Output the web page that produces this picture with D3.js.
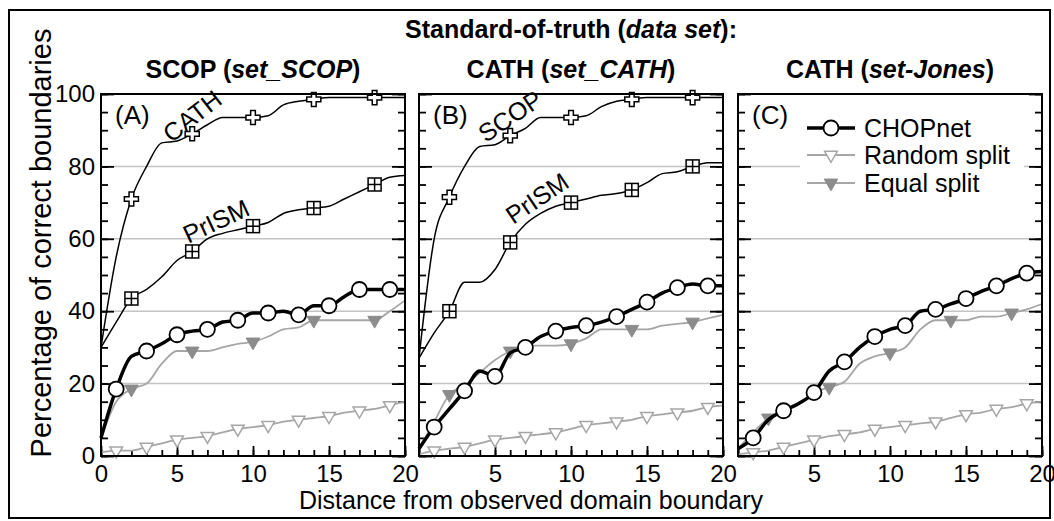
<!DOCTYPE html>
<html>
<head>
<meta charset="utf-8">
<script src="https://cdn.jsdelivr.net/npm/d3@7"></script>
<style>
  body { margin: 0; background: #fff; }
  svg { font-family: "Liberation Sans", Arial, Helvetica, sans-serif; }
</style>
</head>
<body>
<div id="chart"></div>
<script>
// distance values (x) and marker positions
var distance = [0,1,2,3,4,5,6,7,8,9,10,11,12,13,14,15,16,17,18,19,20];
var oddMarks = [1,3,5,7,9,11,13,15,17,19];
var evenMarks = [2,6,10,14,18];

var panelTitles = ["SCOP (set_SCOP)", "CATH (set_CATH)", "CATH (set-Jones)"];
var panelLetters = ["(A)", "(B)", "(C)"];
var xTicks = [0,5,10,15,20];
var yTicks = [0,20,40,60,80,100];
var gridVals = [20,40,60,80];

// panel A (set_SCOP)
var aCath  = [30,55,71,80,86.5,87,89,91.5,93.5,93.5,93.5,94,97,98,98.5,99,99,99,99,99,99];
var aPrism = [30,37,43.5,46,49.5,54,56.5,60,61.5,62.5,63.5,64.5,67,68,68.5,69,71,73,75,77,77.5];
var aChop  = [5,18.5,27.5,29,31,33.5,34.5,35,37,37.5,39.5,39.5,40,39,41.5,41.5,44,46,46,46,46];
var aEqual = [5,15,18.5,20,25.5,29,29,29,30,31,31.5,33,35,35.5,37.5,37.5,37.5,37.5,37.5,40,43];
var aRandom = [1,1.5,1.5,2.5,3.5,4.5,5,5.5,6.5,7.5,8,8.5,9.5,10,10.5,11,12,12.5,13,14,15];

// panel B (set_CATH)
var bScop  = [27,60,71.5,80,85.5,86,88.5,90.5,93.5,93.5,93.5,94,96.5,98,98.5,99,99,99,99,99,99];
var bPrism = [27,34,40,48,48,51.5,59,64,67,69,70,71,72,72.5,73.5,75.5,78,78.5,80,81,81];
var bChop  = [2,8,13,18,23.5,22,28.5,30,33,34.5,35.5,36,37,38.5,40.5,42.5,45,46.5,47.5,47,47];
var bEqual = [2,9.5,17,19.5,23,26.5,29,30.5,30.5,30.5,31,32.5,35,35,35,35,36,36.5,37,38,39];
var bRandom = [0.5,1.5,2,2.5,3.5,4.5,5,5.5,6,6.5,7.5,8.5,9,9.5,10,11,11.5,12,12.5,13.5,14];

// panel C (set-Jones)
var cChop  = [2,5,10,12.5,14.5,17.5,23.5,26,30,33,35,36,40,40.5,42,43.5,45.5,47,49,50.5,51];
var cEqual = [2,6.5,10.5,12.5,14.5,17.5,19,20.5,25.5,27.5,28.5,30,35,37.5,37.5,37.5,38.5,38.5,39.5,40.5,42];
var cRandom = [0.5,1,1.5,2.5,3.5,4.5,5.5,6,6.5,7.5,8,8.5,9,9.5,10.5,11.5,12,13,13.5,14.5,15];

var legendNames = ["CHOPnet", "Random split", "Equal split"];

var W = 1054, H = 521;
var svg = d3.select("#chart").append("svg").attr("width", W).attr("height", H);

var grey = "#a6a6a6", markGrey = "#8c8c8c";
var panelLeft = [101, 419, 738], pw = 304;
var yTop = 94, yBot = 456;

svg.append("rect").attr("x", 9).attr("y", 10).attr("width", 1041).attr("height", 508)
  .attr("fill", "none").attr("stroke", "#000").attr("stroke-width", 2);

svg.append("text").attr("x", 571).attr("y", 38).attr("text-anchor", "middle")
  .attr("font-size", 25).attr("font-weight", "bold")
  .html('Standard-of-truth (<tspan font-style="italic">data set</tspan>):');

var y = d3.scaleLinear().domain([0, 100]).range([yBot, yTop]);

function markerPlus(g, sel) {
  sel.append("path").attr("d", d3.symbol().type(d3.symbolCross).size(110)())
    .attr("fill", "#fff").attr("stroke", "#000").attr("stroke-width", 1.5);
}
function markerSquare(g, sel) {
  sel.append("rect").attr("x", -6.5).attr("y", -6.5).attr("width", 13).attr("height", 13)
    .attr("fill", "#fff").attr("stroke", "#000").attr("stroke-width", 1.5);
  sel.append("path").attr("d", "M-6.5,0H6.5M0,-6.5V6.5").attr("stroke", "#000").attr("stroke-width", 1.5);
}
function markerCircle(g, sel) {
  sel.append("circle").attr("r", 7.5).attr("fill", "#fff").attr("stroke", "#000").attr("stroke-width", 1.8);
}
function markerOpenTri(g, sel) {
  sel.append("path").attr("d", d3.symbol().type(d3.symbolTriangle).size(70)())
    .attr("transform", "rotate(180)")
    .attr("fill", "#fff").attr("stroke", grey).attr("stroke-width", 1.5);
}
function markerFillTri(g, sel) {
  sel.append("path").attr("d", d3.symbol().type(d3.symbolTriangle).size(80)())
    .attr("transform", "rotate(180)")
    .attr("fill", markGrey).attr("stroke", markGrey).attr("stroke-width", 1);
}

function drawSeries(g, x, vals, marks, color, width, marker) {
  var line = d3.line().curve(d3.curveMonotoneX)
    .x(function(d, i) { return x(distance[i]); })
    .y(function(d) { return y(d); });
  g.append("path").datum(vals).attr("d", line)
    .attr("fill", "none").attr("stroke", color).attr("stroke-width", width)
    .attr("stroke-linejoin", "round");
  g.selectAll(null).data(marks).enter().append("g")
    .attr("transform", function(d) { return "translate(" + x(d) + "," + y(vals[distance.indexOf(d)]) + ")"; })
    .each(function() { marker(g, d3.select(this)); });
}

var panels = [
  { chop: aChop, random: aRandom, equal: aEqual, ref: [aCath, aPrism],
    labels: [["CATH", 192, 116, -38], ["PrISM", 216, 221, -25]] },
  { chop: bChop, random: bRandom, equal: bEqual, ref: [bScop, bPrism],
    labels: [["SCOP", 510, 116, -34], ["PrISM", 537, 198, -34]] },
  { chop: cChop, random: cRandom, equal: cEqual, ref: null, labels: [] }
];

panels.forEach(function(p, k) {
  var x0 = panelLeft[k];
  var x = d3.scaleLinear().domain([0, 20]).range([x0, x0 + pw]);
  var g = svg.append("g");

  g.append("text").attr("x", x0 + pw / 2).attr("y", 78).attr("text-anchor", "middle")
    .attr("font-size", 25).attr("font-weight", "bold")
    .html(panelTitles[k].replace(/\((.*)\)/, '(<tspan font-style="italic">$1</tspan>)'));

  g.selectAll(null).data(gridVals).enter().append("line")
    .attr("x1", x0).attr("x2", x0 + pw)
    .attr("y1", function(d) { return y(d); }).attr("y2", function(d) { return y(d); })
    .attr("stroke", "#c4c4c4").attr("stroke-width", 1.5);

  // axes: inward ticks
  var xMinor = d3.axisBottom(x).tickValues(distance).tickSizeInner(-6).tickSizeOuter(0).tickFormat("");
  var xMajor = d3.axisBottom(x).tickValues(xTicks).tickSizeInner(-10).tickSizeOuter(0).tickPadding(9)
    .tickFormat(function(d) { return (k > 0 && d === 0) ? "" : d; });
  var yMinor = d3.axisLeft(y).ticks(20).tickSizeInner(-7).tickSizeOuter(0).tickFormat("");
  var yMajor = d3.axisLeft(y).tickValues(yTicks).tickSizeInner(-13).tickSizeOuter(0).tickPadding(6)
    .tickFormat(k === 0 ? d3.format("d") : "");
  var yMinorR = d3.axisRight(y).ticks(20).tickSizeInner(-7).tickSizeOuter(0).tickFormat("");
  var yMajorR = d3.axisRight(y).tickValues(yTicks).tickSizeInner(-13).tickSizeOuter(0).tickFormat("");

  [[xMinor, "translate(0," + yBot + ")"], [xMajor, "translate(0," + yBot + ")"],
   [yMinor, "translate(" + x0 + ",0)"], [yMajor, "translate(" + x0 + ",0)"],
   [yMinorR, "translate(" + (x0 + pw) + ",0)"], [yMajorR, "translate(" + (x0 + pw) + ",0)"]]
  .forEach(function(a) {
    var ag = g.append("g").attr("transform", a[1]).call(a[0]);
    ag.select(".domain").remove();
    ag.selectAll("line").attr("stroke", "#000").attr("stroke-width", 1.8);
    ag.selectAll("text").attr("font-size", 24).attr("fill", "#000").attr("font-family", null);
  });

  if (k === 2) {
    g.append("rect").attr("x", 800).attr("y", 112).attr("width", 224).attr("height", 84).attr("fill", "#fff");
  }

  var plot = g.append("g");
  if (p.ref) {
    drawSeries(plot, x, p.ref[0], evenMarks, "#000", 1.5, markerPlus);
    drawSeries(plot, x, p.ref[1], evenMarks, "#000", 1.5, markerSquare);
  }
  drawSeries(plot, x, p.random, oddMarks, grey, 1.8, markerOpenTri);
  drawSeries(plot, x, p.equal, evenMarks, grey, 1.8, markerFillTri);
  drawSeries(plot, x, p.chop, oddMarks, "#000", 3.5, markerCircle);

  p.labels.forEach(function(l) {
    g.append("text").attr("text-anchor", "middle").attr("dominant-baseline", "central")
      .attr("font-size", 25)
      .attr("transform", "translate(" + l[1] + "," + l[2] + ") rotate(" + l[3] + ")")
      .text(l[0]);
  });

  g.append("text").attr("x", x0 + 14).attr("y", 124).attr("font-size", 26).text(panelLetters[k]);

  g.append("rect").attr("x", x0).attr("y", yTop).attr("width", pw).attr("height", yBot - yTop)
    .attr("fill", "none").attr("stroke", "#000").attr("stroke-width", 2);
});

// legend in panel C
var legY = [128, 155, 183];
var legStyle = [["#000", 3.5, markerCircle], [grey, 1.8, markerOpenTri], [grey, 1.8, markerFillTri]];
var lg = svg.append("g");
legendNames.forEach(function(name, i) {
  lg.append("line").attr("x1", 807).attr("x2", 855).attr("y1", legY[i]).attr("y2", legY[i])
    .attr("stroke", legStyle[i][0]).attr("stroke-width", legStyle[i][1]);
  var m = lg.append("g").attr("transform", "translate(831," + legY[i] + ")");
  legStyle[i][2](lg, m);
  lg.append("text").attr("x", 864).attr("y", legY[i] + 9).attr("font-size", 25).text(name);
});

svg.append("text").attr("x", 531).attr("y", 509).attr("text-anchor", "middle")
  .attr("font-size", 25).text("Distance from observed domain boundary");

svg.append("text").attr("transform", "translate(51,243) rotate(-90)").attr("text-anchor", "middle")
  .attr("font-size", 29).text("Percentage of correct boundaries");
</script>
</body>
</html>
